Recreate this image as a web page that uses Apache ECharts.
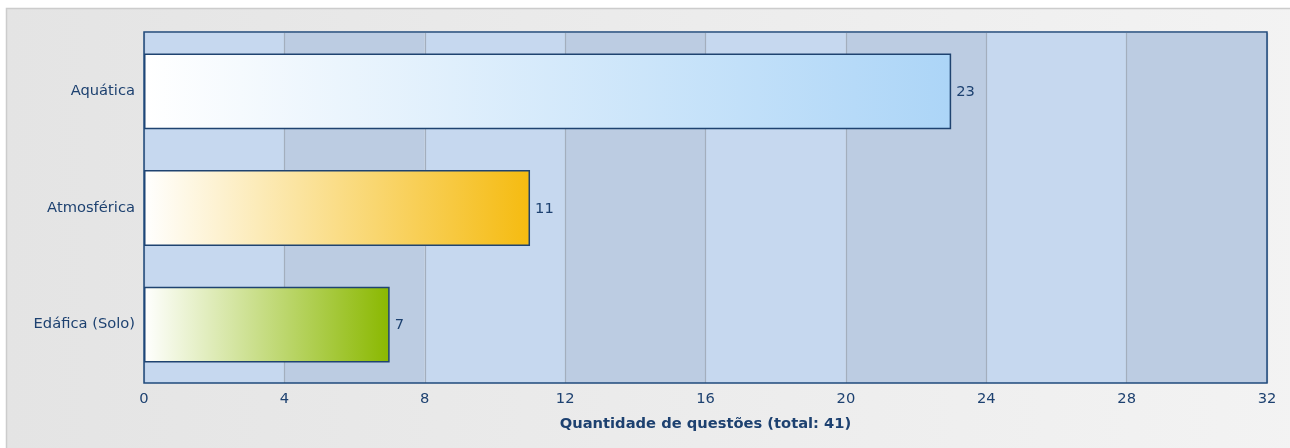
<!DOCTYPE html>
<html>
<head>
<meta charset="utf-8">
<script src="https://cdn.jsdelivr.net/npm/echarts@6/dist/echarts.min.js"></script>
<style>
  html, body { margin: 0; padding: 0; background: #fff; }
  #chart { width: 1290px; height: 448px; }
</style>
</head>
<body>
<div id="chart"></div>
<script>
var categorias = ['Aquática', 'Atmosférica', 'Edáfica (Solo)'];
var questoes = [23, 11, 7];
var coresFim = ['#acd5f7', '#f5bb10', '#8ab800'];
var totalQuestoes = 41;

var dom = document.getElementById('chart');
var myChart = echarts.init(dom, null, { renderer: 'canvas' });

var azulTexto = '#1d4170';
var tamFonte = 14.7;

var option = {
  animation: false,
  backgroundColor: '#ffffff',
  textStyle: { fontFamily: 'DejaVu Sans' },
  graphic: [
    {
      type: 'rect',
      z: -10,
      silent: true,
      shape: { x: 6.5, y: 8.5, width: 1300, height: 460 },
      style: {
        fill: new echarts.graphic.LinearGradient(0, 0, 1, 0, [
          { offset: 0, color: '#e4e4e4' },
          { offset: 1, color: '#f3f3f3' }
        ]),
        stroke: '#cccccc',
        lineWidth: 1.5
      }
    },
    {
      type: 'rect',
      z: 100,
      silent: true,
      shape: { x: 144, y: 32, width: 1123, height: 351 },
      style: { fill: 'none', stroke: '#1f4a7c', lineWidth: 1.5 }
    }
  ],
  grid: { left: 144, right: 23, top: 33, bottom: 65 },
  xAxis: {
    type: 'value',
    min: 0,
    max: 32,
    interval: 4,
    name: 'Quantidade de questões (total: ' + totalQuestoes + ')',
    nameLocation: 'middle',
    nameGap: 34,
    nameTextStyle: { color: azulTexto, fontWeight: 'bold', fontSize: tamFonte, fontFamily: 'DejaVu Sans' },
    axisLine: { show: false },
    axisTick: { show: false },
    axisLabel: { color: azulTexto, fontSize: tamFonte, margin: 9 },
    splitLine: { show: true, lineStyle: { color: '#a3aebd', width: 1.2 } },
    splitArea: { show: true, areaStyle: { color: ['#c6d8ef', '#bccce2'] } }
  },
  yAxis: {
    type: 'category',
    data: categorias,
    inverse: true,
    axisLine: { show: false },
    axisTick: { show: false },
    axisLabel: { color: azulTexto, fontSize: tamFonte, margin: 9, padding: [3, 0, 0, 0] },
    splitLine: { show: false }
  },
  series: [
    {
      type: 'bar',
      barWidth: '65%',
      data: questoes.map(function (v, i) {
        return {
          value: v,
          itemStyle: {
            color: new echarts.graphic.LinearGradient(0, 0, 1, 0, [
              { offset: 0, color: '#ffffff' },
              { offset: 1, color: coresFim[i] }
            ]),
            borderColor: '#1f4370',
            borderWidth: 1.5
          }
        };
      }),
      label: {
        show: true,
        position: 'right',
        distance: 5,
        offset: [0, 1],
        color: azulTexto,
        fontSize: tamFonte
      }
    }
  ]
};

myChart.setOption(option);
window.addEventListener('resize', myChart.resize);
</script>
</body>
</html>
